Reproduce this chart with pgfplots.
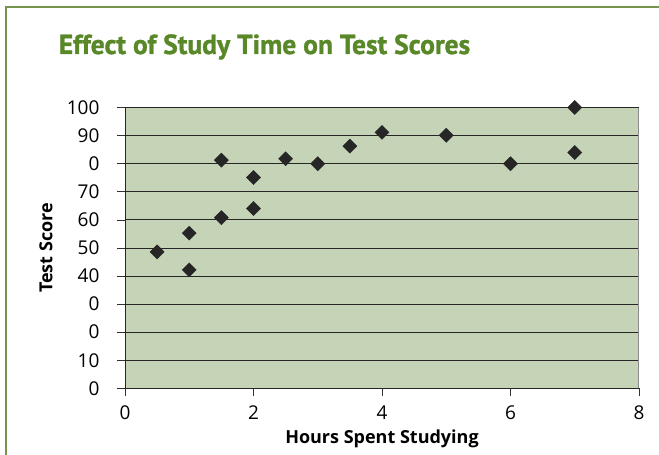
\documentclass[border=0pt]{standalone}
\usepackage{fontspec}
\setmainfont{Open Sans}
\newfontfamily\titlefont[BoldFeatures={FakeBold=1.2}]{PT Sans}
\usepackage{pgfplots}
\pgfplotsset{compat=1.18}
\definecolor{plotbg}{RGB}{197,212,183}
\definecolor{titlegreen}{RGB}{88,136,40}
\definecolor{framegreen}{RGB}{118,148,78}
\begin{document}
\begin{tikzpicture}[x=1pt,y=1pt]
\useasboundingbox (0,0) rectangle (659,455);
\draw[framegreen, line width=1.5pt] (6,0) -- (6,448) -- (659,448);
\begin{axis}[
    at={(125pt,66.7pt)}, anchor=origin,
    scale only axis,
    width=514pt, height=280.6pt,
    xmin=0, xmax=8, ymin=0, ymax=100,
    xtick={0,2,...,8},
    ytick={0,10,...,100},
    yticklabels={0,10,0,0,40,50,60,70,0,90,100},
    tick align=outside,
    major tick length=8pt,
    tick style={black!80, line width=0.8pt},
    ymajorgrids,
    grid style={black!85, line width=0.9pt},
    axis background/.style={fill=plotbg},
    axis x line*=bottom, axis y line*=left,
    axis line style={black!85, line width=0.9pt},
    /pgf/number format/assume math mode=true,
    ticklabel style={font=\fontsize{19}{19}\selectfont},
    yticklabel style={xshift=-14pt},
    xticklabel style={yshift=-6pt},
    xlabel={\textbf{Hours Spent Studying}},
    ylabel={\textbf{Test Score}},
    label style={font=\fontsize{18}{18}\selectfont},
    xlabel style={at={(axis description cs:0.5,-0.18)}, anchor=center},
    ylabel style={at={(axis description cs:-0.1537,0.5)}, anchor=center},
    clip=false,
]
\draw[black!45, line width=1pt] (axis cs:8,0) -- (axis cs:8,100);
\addplot[only marks, mark=square*, mark size=5pt, mark options={rotate=45, fill=black!85, draw=black!85}]
coordinates {
(0.5,48.6) (1,55.3) (1,42.2) (1.5,81.3) (1.5,60.8) (2,75.1) (2,64.1)
(2.5,81.8) (3,80) (3.5,86.3) (4,91.2) (5,90.2) (6,80) (7,100.1) (7,84)
};
\end{axis}
\node[titlegreen, font=\titlefont\fontsize{27.5}{27.5}\selectfont\bfseries] at (264.5,408) {Effect of Study Time on Test Scores};
\end{tikzpicture}
\end{document}
